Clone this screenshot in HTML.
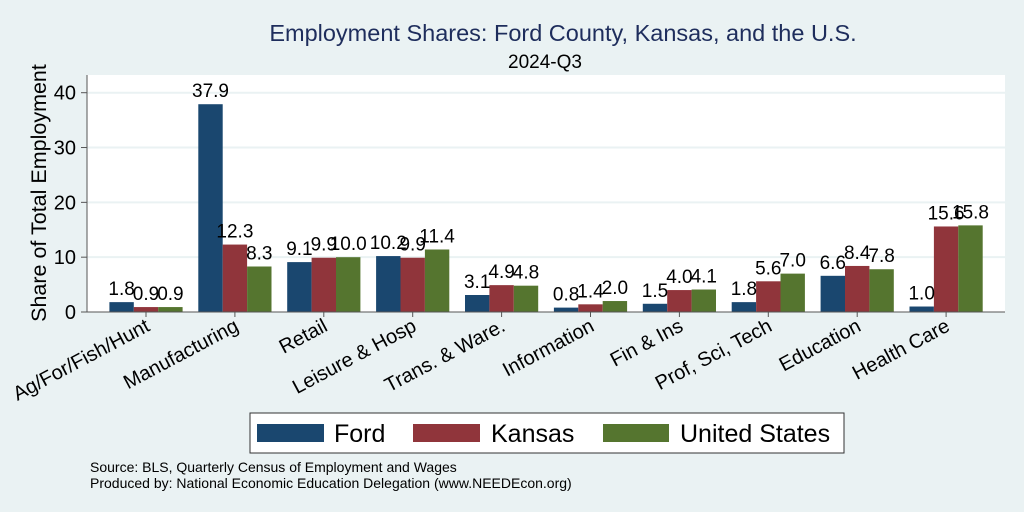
<!DOCTYPE html>
<html><head><meta charset="utf-8"><style>
body{margin:0;background:#eaf2f3;}
svg{display:block;font-family:"Liberation Sans",Arial,sans-serif;}
</style></head><body>
<svg id="chart" width="1024" height="512" viewBox="0 0 1024 512">
<rect x="0" y="0" width="1024" height="512" fill="#eaf2f3"/>
<text x="563" y="41" text-anchor="middle" font-size="23.5" fill="#1e2d5c">Employment Shares: Ford County, Kansas, and the U.S.</text>
<text x="545" y="68" text-anchor="middle" font-size="19" fill="#000">2024-Q3</text>
<rect x="87" y="75" width="918" height="237" fill="#fff"/>
<g id="grid"></g>
<g id="bars"></g>
<g id="labels"></g>
<line x1="87" y1="75" x2="87" y2="312" stroke="#555" stroke-width="1"/>
<line x1="87" y1="312" x2="1005" y2="312" stroke="#555" stroke-width="1"/>
<text transform="translate(46,193) rotate(-90)" text-anchor="middle" font-size="21.5" fill="#000">Share of Total Employment</text>
<g>
<rect x="250" y="413" width="594" height="40" fill="#fff" stroke="#333" stroke-width="1"/>
<rect x="257" y="424" width="67" height="18" fill="#1a476f"/>
<text x="334" y="442" font-size="25">Ford</text>
<rect x="413" y="424" width="67" height="18" fill="#90353b"/>
<text x="491" y="442" font-size="25">Kansas</text>
<rect x="603" y="424" width="66" height="18" fill="#55752f"/>
<text x="680" y="442" font-size="25">United States</text>
</g>
<text x="90" y="472" font-size="14">Source: BLS, Quarterly Census of Employment and Wages</text>
<text x="90" y="488" font-size="14">Produced by: National Economic Education Delegation (www.NEEDEcon.org)</text>
</svg>
<script>
const categories=["Ag/For/Fish/Hunt","Manufacturing","Retail","Leisure & Hosp","Trans. & Ware.","Information","Fin & Ins","Prof, Sci, Tech","Education","Health Care"];
const fordValues=[1.8,37.9,9.1,10.2,3.1,0.8,1.5,1.8,6.6,1.0];
const kansasValues=[0.9,12.3,9.9,9.9,4.9,1.4,4.0,5.6,8.4,15.6];
const usValues=[0.9,8.3,10.0,11.4,4.8,2.0,4.1,7.0,7.8,15.8];
const yTicks=[0,10,20,30,40];
const NS="http://www.w3.org/2000/svg";
const y0=312,pxPerUnit=(312-92.7)/40;
function yScale(v){return y0-v*pxPerUnit;}
function xCenter(i){return 146+i*88.9;}
const bw=24.4;
function mk(tag,attrs,parent){const e=document.createElementNS(NS,tag);for(const k in attrs)e.setAttribute(k,attrs[k]);parent.appendChild(e);return e;}
const grid=document.getElementById('grid'),bars=document.getElementById('bars'),labels=document.getElementById('labels');
yTicks.forEach(t=>{
 const y=yScale(t);
 if(t>0){const g=mk('line',{x1:87,x2:1005,y1:y,y2:y,stroke:'#eaf2f3','stroke-width':2},grid);
 
 }
 const tk=mk('line',{x1:81,x2:87,y1:y,y2:y,stroke:'#555'},grid);
 
 
 const tx=mk('text',{x:76,y:y+7,'text-anchor':'end','font-size':20},grid);tx.textContent=t;
 
 
});
const series=[[fordValues,'#1a476f','ford'],[kansasValues,'#90353b','kansas'],[usValues,'#55752f','us']];
categories.forEach((c,i)=>{
 const cx=xCenter(i);
 series.forEach((s,j)=>{
  const v=s[0][i],x=cx-1.5*bw+j*bw,y=yScale(v);
  const r=mk('rect',{x:x,y:y,width:bw,height:y0-y,fill:s[1]},bars);
  
  
  const t=mk('text',{x:x+bw/2,y:y-7,'text-anchor':'middle','font-size':19},labels);t.textContent=v.toFixed(1);
  
  
 });
 const tk=mk('line',{x1:cx,x2:cx,y1:312,y2:317,stroke:'#555'},labels);
 
 
 const l=mk('text',{transform:`translate(${cx+5},${330}) rotate(-28)`,'text-anchor':'end','font-size':20},labels);l.textContent=c;
 
 
});
</script>
</body></html>
